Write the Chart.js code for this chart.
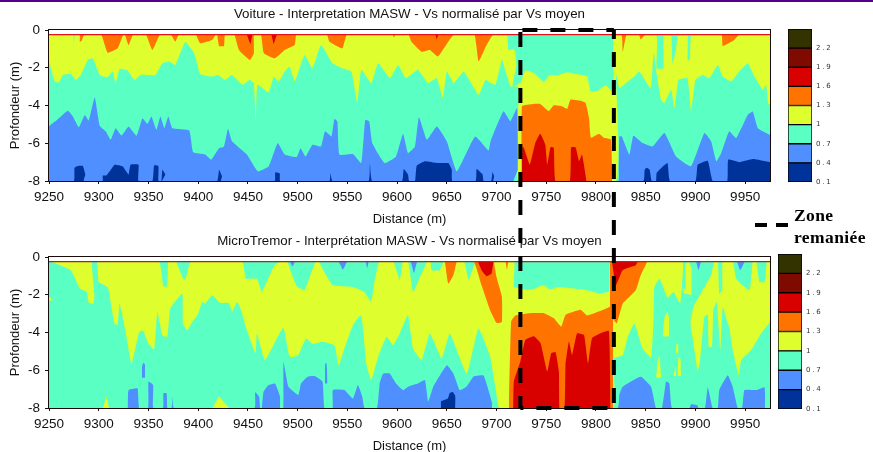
<!DOCTYPE html>
<html lang="fr">
<head>
<meta charset="utf-8">
<title>Interprétation MASW</title>
<script src="https://cdn.jsdelivr.net/npm/chart.js@4"></script>
<style>
  html, body { margin: 0; padding: 0; background: #fff; }
  body { width: 873px; height: 452px; position: relative; overflow: hidden; }
  canvas { position: absolute; }
  #topLine { position: absolute; left: 0; top: 0; width: 873px; height: 2px; background: #55008a; }
  #zoneKey { position: absolute; left: 755px; top: 223px; width: 33px; height: 4px;
             background: linear-gradient(90deg, #000 12px, transparent 12px, transparent 21px, #000 21px); }
  .zoneText { position: absolute; left: 794px; font: bold 17.5px "Liberation Serif", serif; color: #000; letter-spacing: .4px; }
</style>
</head>
<body>
<div id="topLine"></div>
<canvas id="voitureChart" width="780" height="227" style="left:0;top:0"></canvas>
<canvas id="voitureScale" width="70" height="175" style="left:780px;top:19px"></canvas>
<canvas id="tremorChart" width="780" height="227" style="left:0;top:227px"></canvas>
<canvas id="tremorScale" width="70" height="175" style="left:770px;top:244px"></canvas>
<div id="zoneKey"></div>
<div class="zoneText" style="top:205px">Zone</div>
<div class="zoneText" style="top:227px">remaniée</div>
<canvas id="zoneChart" width="873" height="452" style="left:0;top:0;pointer-events:none"></canvas>

<script>
// ---- Axis values ----
const distanceTicks = [9250,9300,9350,9400,9450,9500,9550,9600,9650,9700,9750,9800,9850,9900,9950];
const depthTicks    = [0,-2,-4,-6,-8];
const colorEdges    = [0.1,0.4,0.7,1,1.3,1.6,1.9,2.2,2.5];
const colorLabels   = ['0.1','0.4','0.7','1','1.3','1.6','1.9','2.2'];
const colorFills    = ['#003399','#4f8fff','#5affc3','#deff2d','#ff7300','#d90000','#7f0b00','#333300'];

// ---- Voiture panel: [distance, depth] along each contour ----
const voitureGreenLow = [[9250,-1.67],[9256,-2.73],[9260,-2.78],[9264,-2.38],[9272,-2.33],[9277,-2.64],[9282,-2.38],[9289,-1.59],[9294,-1.5],[9301,-2.38],[9309,-2.5],[9314,-2.2],[9317,-2.82],[9321,-2.06],[9329,-2.15],[9336,-2.64],[9342,-2.38],[9357,-2.38],[9364,-1.76],[9371,-1.67],[9377,-1.85],[9387,-0.62],[9396,-1.23],[9402,-2.33],[9414,-2.47],[9420,-2.38],[9427,-2.64],[9434,-2.38],[9445,-2.9],[9452,-2.64],[9456,-2.85],[9458,-4.85],[9459.5,-2.9],[9471,-3.3],[9476,-2.47],[9481,-2.73],[9487,-2.2],[9492,-1.94],[9497,-2.73],[9507,-1.32],[9515,-2.03],[9523.5,-0.8],[9535,-1.76],[9545,-2.03],[9554,-2.2],[9560,-3.84],[9564,-2.11],[9574,-2.82],[9581,-1.76],[9593,-2.55],[9601,-1.85],[9609,-2.55],[9621,-2.11],[9631,-2.82],[9640,-2.55],[9646,-3.61],[9650,-2.2],[9657,-2.82],[9667,-2.2],[9682,-3.44],[9689,-2.64],[9694,-2.8],[9699,-2.9],[9705.6,-1.57],[9709,-2.19],[9714,-2.98],[9716,-3.03],[9722,-3],[9722,-3.86],[9722.5,-8],[9820,-8],[9820,-2.3],[9823.5,-3.08],[9830,-2.82],[9838.6,-2.47],[9843.6,-2.2],[9855,-3.08],[9858,-1.15],[9860.4,-2.11],[9865.4,-3.7],[9868.8,-3.88],[9875.5,-3.17],[9879,-4.14],[9883,-2.64],[9892,-2.55],[9895.6,-4.32],[9900,-2.64],[9907.4,-2.38],[9914,-2.55],[9922.5,-1.85],[9927.5,-2.47],[9936,-2.73],[9944,-2.2],[9952.7,-1.76],[9959.4,-2.47],[9967.8,-3.17],[9971,-2.9],[9973.5,-3.96],[9975,-3.9]];
const voitureGreenTop = [[9250,-0.2],[9274,-0.2],[9275,-1.41],[9277,-0.2],[9710,-0.2],[9712,-1.04],[9718,-1.04],[9720,-1.83],[9716,-3.03],[9724,-2.8],[9729,-2.13],[9737.5,-2.27],[9747.6,-2.75],[9752.6,-2.42],[9761,-2.4],[9771,-2.24],[9783,-2.36],[9791,-2.45],[9794.6,-3.25],[9801,-3.25],[9809.6,-2.93],[9818,-3.33],[9818.5,-0.2],[9860.4,-0.2],[9861,-2.03],[9867.8,-2.03],[9868,-0.2],[9875.5,-0.2],[9877,-1.76],[9880.5,-1.06],[9882.5,-0.2],[9892,-0.2],[9892.2,-1.59],[9894.6,-1.59],[9896.6,-0.2],[9975,-0.2]];
const voitureBlue = [[9250,-5.1],[9256,-4.85],[9262,-4.58],[9269,-4.28],[9274,-4.58],[9280,-5.15],[9286,-4.5],[9290,-4.8],[9296,-3.58],[9301,-5.07],[9307,-5.37],[9312,-5.81],[9317,-5.2],[9323,-5.59],[9330,-5.11],[9338,-5.6],[9344,-4.67],[9349,-4.97],[9353,-4.58],[9358,-5.29],[9362,-4.58],[9366,-5.2],[9370,-4.58],[9374,-5.2],[9391,-5.32],[9395,-6.48],[9407,-6.6],[9413,-6.87],[9421,-6.26],[9426,-6.17],[9430,-5.23],[9434,-5.9],[9449,-6.6],[9460,-7.49],[9471,-7.22],[9480,-5.99],[9487,-6.6],[9499,-6.73],[9503,-6.26],[9508,-6.7],[9515,-6.08],[9523.5,-6.17],[9527.6,-5.37],[9534,-5.64],[9537,-4.7],[9540,-4.85],[9542,-6.6],[9555.5,-6.57],[9564,-7.05],[9568,-4.76],[9572,-4.85],[9575,-5.99],[9587.5,-7.05],[9599,-6.7],[9606,-5.5],[9611,-6.52],[9618,-6.17],[9622,-4.62],[9630,-5.81],[9640,-5.11],[9650,-5.9],[9660,-7.49],[9678.5,-5.64],[9692,-6.38],[9694,-5.89],[9707,-4.3],[9714,-4.83],[9720.7,-4.13],[9721.4,-7.4],[9717.4,-8],[9822.5,-8],[9823,-7.49],[9823.5,-5.64],[9826,-5.64],[9833.6,-6.6],[9837.6,-5.6],[9847,-5.99],[9857,-6.17],[9868.8,-5.46],[9880.5,-6.7],[9895.6,-7.22],[9909,-5.46],[9915.8,-5.9],[9921,-6.96],[9926,-6.52],[9934,-5.37],[9941,-5.73],[9952.7,-4.49],[9957.7,-4.32],[9962.8,-5.2],[9975,-5.55]];
const voitureDarkBlue = [[9250,-8],[9275,-8],[9275.6,-7.3],[9279,-7.2],[9284,-7.2],[9286.5,-7.66],[9285,-8],[9304,-8],[9304,-7.72],[9308,-7.7],[9316,-7.14],[9324,-7.22],[9330,-7.66],[9332,-7.14],[9340,-7.14],[9340,-8],[9354,-8],[9355.7,-7.17],[9360,-7.2],[9360,-8],[9363,-8],[9364,-7.4],[9367,-7.66],[9364,-8],[9419,-8],[9421,-7.4],[9424,-7.75],[9423,-8],[9477,-8],[9477.5,-7.54],[9482,-7.6],[9482.5,-8],[9532,-8],[9533,-7.58],[9535,-8],[9571.4,-8],[9572.7,-7.08],[9575,-8],[9605,-8],[9606.7,-7.37],[9611,-7.66],[9612,-8],[9618,-8],[9619.7,-7.2],[9628,-6.96],[9640,-7.05],[9651.5,-7.05],[9655,-7.4],[9655.6,-8],[9679,-8],[9680,-7.37],[9686,-7.66],[9687,-8],[9694.6,-8],[9696,-7.52],[9697.6,-7.75],[9697,-8],[9847.6,-8],[9849,-7.4],[9851,-7.3],[9854,-7.4],[9856,-8],[9860.4,-8],[9861,-7.58],[9867.5,-7.22],[9872,-7.05],[9874.5,-8],[9900,-8],[9902.3,-7.14],[9912.4,-6.93],[9917.4,-8],[9932,-8],[9933,-6.87],[9944.4,-7],[9957.7,-6.84],[9975,-7]];
const voitureOrangeTop = [[9250,-0.2],[9280.7,-0.2],[9281,-0.62],[9283,-0.55],[9286,-0.2],[9302,-0.2],[9309,-1.2],[9319,-0.97],[9325,-0.2],[9326,-0.2],[9330,-0.8],[9335,-0.2],[9347,-0.2],[9354,-1.06],[9362,-0.2],[9372,-0.2],[9377,-0.62],[9381,-0.2],[9397,-0.2],[9402,-0.7],[9414,-0.53],[9418,-0.2],[9419,-0.2],[9421,-0.85],[9426,-0.85],[9427,-0.2],[9436,-0.2],[9441,-1.06],[9452,-1.59],[9456,-1.23],[9456.2,-0.2],[9463,-0.2],[9466,-1.23],[9477,-1.5],[9487,-1.06],[9497,-0.8],[9499,-0.2],[9529,-0.2],[9532,-0.62],[9545,-0.97],[9550,-0.2],[9595,-0.2],[9597,-0.4],[9599,-0.2],[9611,-0.2],[9614.5,-0.62],[9624.6,-1.15],[9633,-1.06],[9641,-1.4],[9651.5,-0.62],[9658,-0.2],[9677.5,-0.2],[9682,-1.67],[9690,-0.8],[9697.6,-0.2],[9825,-0.2],[9827,-1.15],[9831,-0.2],[9843,-0.2],[9845,-0.5],[9851,-0.2],[9926,-0.2],[9927.5,-0.85],[9939,-0.53],[9945,-0.2],[9975,-0.2]];
const voitureDarkRedTop = [[9448.6,-0.2],[9452.6,-0.74],[9455,-0.2],[9473,-0.2],[9476,-0.74],[9480,-0.2],[9638,-0.2],[9640,-0.5],[9641.5,-0.2]];
const voitureZoneOrange = [[9725,-8],[9725.5,-4.04],[9737.5,-3.92],[9744,-3.92],[9752.6,-4.3],[9757.6,-3.99],[9766,-4.04],[9771,-4.18],[9774.4,-3.69],[9783,-3.74],[9789.5,-3.86],[9793,-4.66],[9795,-5.71],[9803,-5.5],[9808,-5.71],[9815,-5.8],[9816.4,-8]];
const voitureZoneRed = [[9725.5,-8],[9726,-6.2],[9727.5,-6.24],[9733.5,-7.13],[9739,-5.98],[9744,-5.5],[9749,-6.07],[9751,-7.13],[9754.3,-6.21],[9757.6,-6.24],[9759.3,-8],[9773.7,-8],[9775,-6.21],[9779.5,-6.21],[9783,-6.95],[9786,-6.6],[9790.5,-8]];

// ---- MicroTremor panel ----
const tremorGreenLow = [[9250,-0.2],[9272,-0.7],[9281,-1.67],[9288,-1.85],[9290,-2.43],[9294.7,-2.47],[9295.7,-2.03],[9293,-0.2],[9298,-0.2],[9300,-1.32],[9309,-1.59],[9312,-2.38],[9315.7,-3.52],[9319,-3.6],[9321,-2.47],[9327,-3.96],[9333,-5.64],[9340.7,-3.96],[9344.7,-3.91],[9349.7,-4.58],[9355.7,-4.9],[9359,-2.9],[9364,-4.14],[9369,-4.23],[9372,-2.73],[9384,-1.94],[9384.7,-3.52],[9389,-3.88],[9394,-3.44],[9399.7,-3.03],[9404,-2.38],[9407,-2.47],[9414,-2.03],[9422,-2.43],[9430.7,-2.43],[9434,-2.9],[9439,-2.38],[9442,-2.64],[9449,-3.88],[9457.7,-5.11],[9459,-4.05],[9467,-5.46],[9475.7,-4.67],[9485.7,-3.74],[9492,-5.29],[9500.7,-5.2],[9508.4,-4.32],[9515,-4.6],[9525,-4.49],[9537,-4.67],[9541.4,-5.73],[9547,-4.85],[9555.6,-3.61],[9564,-3.08],[9569,-5.64],[9574,-6.52],[9581,-5.29],[9589.5,-4.23],[9596,-4.67],[9602.7,-4.05],[9611,-3.08],[9616,-4.85],[9624.6,-5.46],[9633,-4.05],[9644.8,-5.37],[9653,-4.05],[9670,-6.17],[9681.8,-3.79],[9693.6,-5.29],[9702,-7.93],[9703.7,-8],[9817.5,-8],[9817.5,-5.37],[9827,-5.2],[9832,-4.23],[9838.6,-3.52],[9847,-4.85],[9855.4,-5.32],[9858,-3.17],[9858.7,-1.59],[9864,-1.15],[9872,-2.15],[9878,-1.85],[9884.6,-2.47],[9886.6,-1.59],[9889,-1.94],[9896,-2.03],[9895,-3.52],[9898,-4.58],[9902.3,-6.08],[9904.7,-5.46],[9909,-3.17],[9912.4,-3.03],[9913.4,-4.76],[9916.8,-4.76],[9918,-2.82],[9921.5,-2.38],[9925,-4.93],[9927.5,-2.64],[9932.5,-3.52],[9934,-3.7],[9937.5,-4.93],[9943.6,-6.26],[9946,-5.46],[9956,-4.93],[9966,-4.05],[9975,-3.44]];
const tremorGreenTop = [[9250,-0.2],[9360,-0.2],[9365,-1.55],[9369,-1.55],[9370,-0.2],[9377.3,-0.2],[9384,-1.06],[9387,-1.23],[9393,-0.2],[9444,-0.2],[9448,-1.15],[9459,-1.15],[9464,-1.85],[9471,-1.06],[9477,-0.44],[9484,-0.2],[9489,-0.2],[9497,-1.32],[9500,-1.59],[9507,-1.76],[9512,-1.06],[9518.5,-0.2],[9521,-0.2],[9525,-0.62],[9535.4,-1.5],[9555.6,-1.59],[9567,-1.85],[9574,-2.38],[9577,-1.41],[9582.5,-0.2],[9596,-0.2],[9602.7,-1.23],[9606,-0.2],[9611,-0.2],[9616,-1.85],[9621,-1.32],[9630.6,-0.2],[9633.7,-0.2],[9634.7,-0.7],[9643,-0.7],[9647.5,-0.2],[9667,-0.2],[9672,-1.2],[9680,-0.2],[9717.4,-0.2],[9717.4,-1.57],[9724,-1.66],[9730.8,-1.75],[9739,-1.66],[9747,-1.48],[9754,-1.71],[9762.7,-1.57],[9774.5,-1.66],[9789.5,-1.75],[9803,-1.92],[9813,-1.83],[9815,-0.2],[9886.6,-0.2],[9886.6,-1.59],[9890,-1.76],[9890,-0.35],[9893.4,-0.26],[9896,-0.6],[9896,-2.03],[9895,-3.52],[9898,-2.64],[9905.4,-1.94],[9915.8,-0.97],[9919,-0.2],[9922.5,-0.2],[9924,-1.94],[9927,-1.76],[9927.5,-0.2],[9937.5,-0.2],[9941,-1.15],[9954.4,-1.76],[9957.7,-0.2],[9961,-0.2],[9964.4,-1.32],[9969.5,-1.32],[9972,-0.2],[9975,-0.2]];
const tremorBlue = [[9329,-8],[9330,-7.05],[9339,-6.96],[9340.7,-8],[9349.7,-8],[9350,-6.6],[9354.7,-6.78],[9354.8,-8],[9364.7,-8],[9365,-7.22],[9368.3,-7.22],[9369,-8],[9373.3,-8],[9374,-7.4],[9375.6,-8],[9456.7,-8],[9457.3,-7.17],[9461.3,-7.4],[9462.3,-8],[9464,-8],[9465.7,-7.14],[9470.7,-6.78],[9477.3,-6.7],[9482.3,-7.4],[9482.4,-8],[9485.7,-8],[9485.7,-5.55],[9488,-6.17],[9490.7,-6.87],[9500.7,-7.31],[9503.4,-6.7],[9510,-6.34],[9516.8,-6.31],[9525,-6.6],[9527,-8],[9535.2,-8],[9535.4,-7.05],[9547,-7.05],[9555.6,-7.5],[9560.6,-6.78],[9565,-7.4],[9567.3,-8],[9579.8,-8],[9582.5,-6.7],[9586,-6.17],[9592.6,-6.17],[9599,-6.7],[9606,-7.05],[9611,-6.87],[9621,-6.7],[9628,-6.52],[9631.3,-7.66],[9636.4,-6.87],[9650,-5.73],[9656.6,-6.17],[9663,-7.05],[9670,-6.86],[9677,-6.33],[9687,-6.28],[9695.6,-7.74],[9695.7,-8],[9821.8,-8],[9823.5,-7.3],[9826.8,-6.87],[9845,-6.34],[9855.4,-6.87],[9860.4,-8],[9866.4,-8],[9870.5,-6.6],[9873.8,-6.7],[9876.5,-8],[9894,-8],[9895.6,-7.8],[9902,-7.85],[9903,-8],[9909.7,-8],[9912.4,-6.9],[9917.4,-8],[9922.5,-8],[9924,-7.05],[9932.5,-6.26],[9937.5,-6.87],[9942.6,-8],[9947,-8],[9949.3,-7.05],[9961,-7.05],[9969.5,-6.9],[9970,-8]];
const tremorBlueBlobA = [[9343.5,-6.4],[9343.5,-5.8],[9345,-5.6],[9346.5,-5.7],[9346.5,-6.4]];
const tremorBlueBlobB = [[9527.5,-6.7],[9527.5,-5.7],[9529,-5.6],[9530,-6.5],[9530,-6.7]];
const tremorBlueTop = [[9491.6,-0.2],[9495,-0.5],[9498,-0.2],[9540.4,-0.2],[9545.5,-0.67],[9550.5,-0.2],[9568,-0.2],[9570,-0.6],[9572,-0.2],[9613,-0.2],[9617,-0.85],[9621,-0.2],[9900,-0.2],[9903,-0.7],[9906.4,-0.2],[9941,-0.2],[9945,-0.7],[9950,-0.2]];
const tremorDarkBlue = [[9644,-8],[9644,-7.66],[9651,-7.5],[9653,-7.2],[9656,-7.15],[9659,-7.4],[9658.5,-8]];
const tremorYellowBottom = [[9304,-8],[9308,-7.4],[9311,-8],[9414,-8],[9420.7,-7.4],[9427,-7.75],[9431,-8]];
const tremorYellowBlobA = [[9250,-2.3],[9250,-2.1],[9253,-2.25],[9254,-2.3]];
const tremorYellowBlobB = [[9860.5,-6.4],[9862,-5.5],[9864,-5.25],[9865.5,-6.4]];
const tremorYellowBlobC = [[9867,-4.2],[9869,-3.2],[9872,-2.9],[9874.5,-3.6],[9873.5,-4.2]];
const tremorYellowBlobD = [[9880.5,-5.1],[9881,-4.6],[9883,-4.6],[9883,-5.1]];
const tremorYellowBlobE = [[9878,-6.3],[9880,-5.8],[9880.5,-6.3]];
const tremorYellowBlobF = [[9882,-6.3],[9883,-5.3],[9885,-5.4],[9885.5,-6.3]];
const tremorOrangeLeft = [[9648,-0.2],[9651.5,-1.41],[9656.6,-0.97],[9660.6,-0.2],[9676.8,-0.2],[9685,-1.5],[9693.6,-2.82],[9700,-3.49],[9705.4,-3.44],[9705.4,-2.11],[9700,-1.06],[9697.6,-0.2],[9708.7,-0.2],[9710.4,-0.67],[9712,-0.2]];
const tremorRedLeft = [[9681,-0.2],[9685,-0.7],[9690,-1.02],[9695,-0.88],[9697,-0.2]];
const tremorZoneOrange = [[9712.4,-8],[9714.7,-3.42],[9719,-3.1],[9734,-2.98],[9747.6,-2.98],[9757.7,-3.25],[9765,-3.69],[9769.4,-3.07],[9784.5,-2.8],[9791,-3.1],[9803,-2.89],[9814,-2.63],[9817,-2.5],[9817.5,-8]];
const tremorZoneRed = [[9716.7,-8],[9717.4,-6.6],[9724,-5.54],[9729,-4.39],[9737.5,-4.2],[9744.3,-4.57],[9751,-6.07],[9755,-5.1],[9759.4,-5.04],[9762.7,-6.07],[9763.4,-8],[9768.4,-8],[9769.4,-5.71],[9772.8,-4.48],[9776,-5.19],[9781,-4.04],[9788,-4.13],[9792,-5.63],[9796,-4.3],[9804.6,-4.04],[9813,-3.92],[9814.7,-8]];
const tremorOrangeRight = [[9814,-0.2],[9814,-2.8],[9816.8,-3.26],[9821,-3.52],[9827,-2.47],[9840,-1.76],[9845,-0.97],[9852,-0.2]];
const tremorRedRight = [[9816,-0.2],[9820,-1.5],[9826.8,-0.7],[9840,-0.44],[9842.6,-0.2]];

// ---- Zone remaniée outline, depth runs on across both panels ----
const zoneDistance = [9724,9818,9818,9818,9724,9818,9724,9724];
const zoneDepth    = [0,0,0,-20,-20,-20,0,-20];
const zoneDashOffsets = [26,6,12,26];

const fullWidth = [[9250,0],[9975,0]];
const stripLine = [[9250,-0.25],[9975,-0.25]];

const C = { dblue: colorFills[0], blue: colorFills[1], green: colorFills[2], yellow: colorFills[3],
            orange: colorFills[4], red: colorFills[5], dred: colorFills[6] };

// ---- Layers go bottom to top, later ones paint over earlier ones ----
const voitureLayers = [
  [fullWidth, C.yellow, 'start'],
  [voitureGreenLow, C.green, 'start'],
  [voitureGreenTop, C.green, 'end'],
  [voitureBlue, C.blue, 'start'],
  [voitureDarkBlue, C.dblue, 'start'],
  [voitureOrangeTop, C.orange, 'end'],
  [voitureDarkRedTop, C.red, 'end'],
  [voitureZoneOrange, C.orange, 'start'],
  [voitureZoneRed, C.red, 'start']
];

const tremorLayers = [
  [fullWidth, C.yellow, 'start'],
  [tremorGreenLow, C.green, 'start'],
  [tremorGreenTop, C.green, 'end'],
  [tremorYellowBottom, C.yellow, 'start'],
  [tremorYellowBlobA, C.yellow, { value: -2.3 }],
  [tremorYellowBlobB, C.yellow, { value: -6.4 }],
  [tremorYellowBlobC, C.yellow, { value: -4.2 }],
  [tremorYellowBlobD, C.yellow, { value: -5.1 }],
  [tremorYellowBlobE, C.yellow, { value: -6.3 }],
  [tremorYellowBlobF, C.yellow, { value: -6.3 }],
  [tremorBlue, C.blue, 'start'],
  [tremorBlueBlobA, C.blue, { value: -6.4 }],
  [tremorBlueBlobB, C.blue, { value: -6.7 }],
  [tremorBlueTop, C.blue, 'end'],
  [tremorDarkBlue, C.dblue, 'start'],
  [tremorOrangeLeft, C.orange, 'end'],
  [tremorRedLeft, C.red, 'end'],
  [tremorZoneOrange, C.orange, 'start'],
  [tremorZoneRed, C.red, 'start'],
  [tremorOrangeRight, C.orange, 'end'],
  [tremorRedRight, C.red, 'end']
];

const framePlugin = {
  id: 'frame',
  afterDraw(chart) {
    const a = chart.chartArea, ctx = chart.ctx;
    ctx.save();
    ctx.strokeStyle = '#1a0a0a';
    ctx.lineWidth = 1;
    ctx.strokeRect(Math.round(a.left) - .5, Math.round(a.top) - .5, Math.round(a.width) + 1, Math.round(a.height) + 1);
    ctx.restore();
  }
};

function contourChart(id, title, layers, stripColor) {
  const datasets = layers.map((l, i) => ({
    data: l[0].map(p => ({ x: p[0], y: p[1] })),
    backgroundColor: l[1],
    fill: l[2],
    borderWidth: 0,
    pointRadius: 0,
    tension: 0.12,
    order: layers.length - i + 1
  }));
  // white strip above the first depth, red line on its lower edge
  datasets.push({
    data: stripLine.map(p => ({ x: p[0], y: p[1] })),
    backgroundColor: '#fff',
    fill: 'end',
    borderColor: stripColor,
    borderWidth: 1.2,
    pointRadius: 0,
    order: 0
  });
  return new Chart(document.getElementById(id), {
    type: 'line',
    data: { datasets },
    plugins: [framePlugin],
    options: {
      responsive: false,
      animation: false,
      layout: { padding: { right: 10 } },
      plugins: {
        legend: { display: false },
        tooltip: { enabled: false },
        title: {
          display: true, text: title, color: '#111', fullSize: false,
          font: { family: 'Liberation Sans', size: 13.3, weight: 'normal', lineHeight: 1 },
          padding: { top: 8, bottom: 8.7 }
        }
      },
      scales: {
        x: {
          type: 'linear', min: 9250, max: 9975,
          afterBuildTicks: s => { s.ticks = distanceTicks.map(v => ({ value: v })); },
          afterFit: s => { s.height = 46; },
          grid: { drawOnChartArea: false, tickLength: 3, color: '#111' },
          border: { color: '#111' },
          ticks: { color: '#111', padding: 5, maxRotation: 0, autoSkip: false,
                   font: { family: 'Liberation Sans', size: 13.5 }, callback: v => String(v) },
          title: { display: true, text: 'Distance (m)', color: '#111', padding: { top: 2, bottom: 0 },
                   font: { family: 'Liberation Sans', size: 13 } }
        },
        y: {
          min: -8, max: 0,
          afterBuildTicks: s => { s.ticks = depthTicks.map(v => ({ value: v })); },
          afterFit: s => { s.width = 49; },
          grid: { drawOnChartArea: false, tickLength: 4, color: '#111' },
          border: { color: '#111' },
          ticks: { color: '#111', padding: 5, font: { family: 'Liberation Sans', size: 13.5 }, callback: v => String(v) },
          title: { display: true, text: 'Profondeur (m)', color: '#111', padding: { top: 8, bottom: 0 },
                   font: { family: 'Liberation Sans', size: 13 } }
        }
      }
    }
  });
}

function colorBar(id, bottomPad) {
  return new Chart(document.getElementById(id), {
    type: 'bar',
    data: {
      labels: ['Vs'],
      datasets: colorFills.map((c, i) => ({
        data: [[colorEdges[i], colorEdges[i + 1]]],
        backgroundColor: c,
        borderColor: '#000',
        borderWidth: 1,
        borderSkipped: false,
        grouped: false,
        barPercentage: 1,
        categoryPercentage: 1
      }))
    },
    plugins: [{ id: 'wideText', beforeDraw(chart) { chart.ctx.letterSpacing = '1.8px'; } }],
    options: {
      responsive: false,
      animation: false,
      layout: { padding: { left: 8, top: 10, bottom: bottomPad, right: 0 } },
      plugins: { legend: { display: false }, tooltip: { enabled: false } },
      scales: {
        x: { display: false },
        y: {
          position: 'right', min: 0.1, max: 2.5,
          afterBuildTicks: s => { s.ticks = colorEdges.slice(0, 8).map(v => ({ value: v })); },
          afterFit: s => { s.width = 38; },
          grid: { drawOnChartArea: false, drawTicks: false },
          border: { display: false },
          ticks: { color: '#333', padding: 4, font: { family: 'DejaVu Sans', size: 7 },
                   callback: (v, i) => colorLabels[i] }
        }
      }
    }
  });
}

contourChart('voitureChart', 'Voiture - Interpretation MASW - Vs normalisé par Vs moyen', voitureLayers, '#e8101a');
contourChart('tremorChart', 'MicroTremor - Interprétation MASW - Vs normalisé par Vs moyen', tremorLayers, '#a52a10');
colorBar('voitureScale', 12);
colorBar('tremorScale', 10);

// one dataset per side so each side keeps its own dash phase
const zoneSides = [[0, 1], [2, 3], [4, 5], [6, 7]];
new Chart(document.getElementById('zoneChart'), {
  type: 'scatter',
  data: {
    datasets: zoneSides.map((s, k) => ({
      data: s.map(i => ({ x: zoneDistance[i], y: zoneDepth[i] })),
      showLine: true,
      borderColor: '#000',
      borderWidth: 4,
      borderDash: [15, 13],
      borderDashOffset: zoneDashOffsets[k],
      pointRadius: 0,
      clip: false
    }))
  },
  options: {
    responsive: false,
    animation: false,
    layout: { padding: { left: 49, right: 103, top: 30, bottom: 44 } },
    plugins: { legend: { display: false }, tooltip: { enabled: false } },
    scales: {
      x: { display: false, type: 'linear', min: 9250, max: 9975 },
      y: { display: false, min: -20, max: 0 }
    }
  }
});
</script>
</body>
</html>
